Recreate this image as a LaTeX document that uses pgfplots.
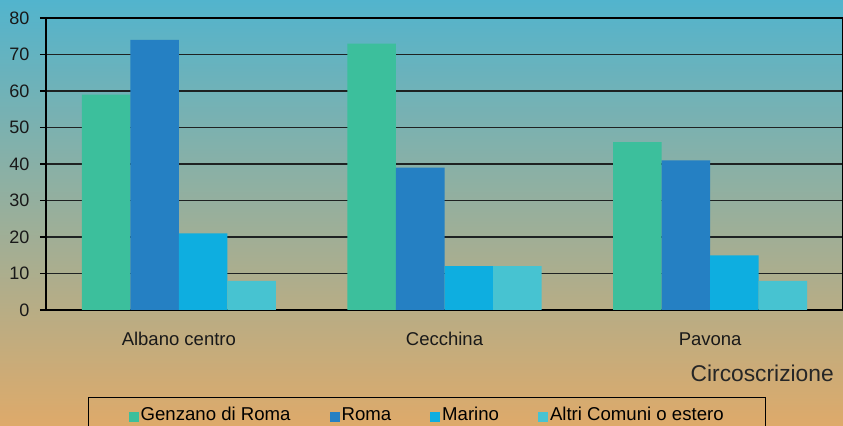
\documentclass[border=0pt]{standalone}
\usepackage{pgfplots}
\pgfplotsset{compat=1.18}
\usepackage{fontspec}
\setmainfont{Liberation Sans}

\definecolor{bgtop}{HTML}{52B4CD}
\definecolor{bgbot}{HTML}{DEAA6A}
\definecolor{cGenz}{HTML}{3CBF9C}
\definecolor{cRoma}{HTML}{2580C3}
\definecolor{cMar}{HTML}{0EAEE0}
\definecolor{cAltri}{HTML}{47C3D1}
\definecolor{gridc}{HTML}{1E2222}

\begin{document}
\begin{tikzpicture}
\path[use as bounding box] (0bp,0bp) rectangle (843bp,426bp);
\clip (0bp,0bp) rectangle (843bp,426bp);
\shade[top color=bgtop, bottom color=bgbot] (0bp,0bp) rectangle (843bp,426bp);
\begin{axis}[
    at={(46bp,116bp)}, anchor=south west,
    scale only axis,
    width=797bp, height=292bp,
    xmin=-0.5, xmax=2.5,
    ymin=0, ymax=80,
    ytick={0,10,...,80},
    xtick={0,1,2},
    xticklabels={Albano centro, Cecchina, Pavona},
    extra x ticks={0.5,1.5,2.5},
    extra x tick labels={},
    extra x tick style={major tick length=5bp, tick style={black, line width=1.2bp}},
    xtick pos=bottom, ytick pos=left,
    tick align=outside,
    x tick style={draw=none},
    y tick style={black, line width=1.2bp},
    major tick length=6bp,
    ymajorgrids,
    grid style={gridc, line width=1.3bp},
    axis line style={black, line width=1.3bp},
    /pgf/number format/assume math mode=true,
    yticklabel style={font=\fontsize{18bp}{21bp}\selectfont, text=black!90, xshift=-7bp},
    xticklabel style={font=\fontsize{18.5bp}{22bp}\selectfont, text=black!90, yshift=-13bp},
    xlabel={Circoscrizione},
    xlabel style={at={(rel axis cs:1,0)}, anchor=east, inner sep=0pt,
        xshift=-9bp, yshift=-63bp,
        font=\fontsize{22.8bp}{26bp}\selectfont, text=black!85},
    ybar=0pt,
    bar width=0.1826,
    legend columns=4,
    legend style={at={(0.0527,-0.298)}, anchor=north west,
        draw=black, line width=1.3bp, fill=none,
        font=\fontsize{18.6bp}{22bp}\selectfont,
        inner xsep=40bp, inner ysep=14bp,
        nodes={inner xsep=2bp, text height=0.72em, text depth=0.22em},
        /tikz/every even column/.append style={column sep=37bp}},
    legend image code/.code={\fill[#1] (0bp,-4bp) rectangle (10bp,6bp);},
]
\addplot[fill=cGenz, draw=none] coordinates {(0,59) (1,73) (2,46)};
\addplot[fill=cRoma, draw=none] coordinates {(0,74) (1,39) (2,41)};
\addplot[fill=cMar, draw=none] coordinates {(0,21) (1,12) (2,15)};
\addplot[fill=cAltri, draw=none] coordinates {(0,8) (1,12) (2,8)};
\legend{Genzano di Roma, Roma, Marino, Altri Comuni o estero}
\end{axis}
\end{tikzpicture}
\end{document}
